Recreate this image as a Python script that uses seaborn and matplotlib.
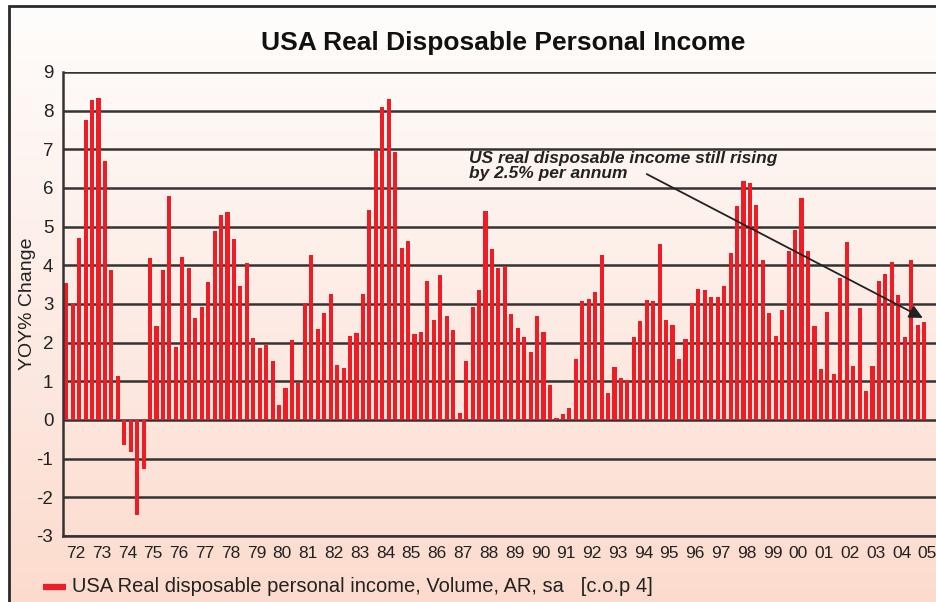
import numpy as np
import matplotlib
matplotlib.use("Agg")
import matplotlib.pyplot as plt
import seaborn as sns
from matplotlib.colors import LinearSegmentedColormap
from matplotlib.patches import Rectangle

# year labels on the x axis (one per 4 quarters)
years = ["72", "73", "74", "75", "76", "77", "78", "79", "80", "81", "82", "83",
         "84", "85", "86", "87", "88", "89", "90", "91", "92", "93", "94", "95",
         "96", "97", "98", "99", "00", "01", "02", "03", "04", "05"]

# quarterly YOY % change, 1972Q1 .. 2005Q2
yoy = [3.54, 3.01, 4.71, 7.76,   8.28, 8.33, 6.71, 3.88,
       1.14, -0.65, -0.84, -2.45, -1.26, 4.19, 2.43, 3.88,
       5.79, 1.90, 4.22, 3.93,   2.64, 2.92, 3.57, 4.89,
       5.30, 5.38, 4.68, 3.47,   4.07, 2.12, 1.86, 1.94,
       1.53, 0.39, 0.83, 2.07,   0.96, 3.03, 4.27, 2.35,
       2.77, 3.26, 1.42, 1.34,   2.17, 2.25, 3.26, 5.43,
       6.96, 8.09, 8.30, 6.93,   4.45, 4.63, 2.22, 2.28,
       3.59, 2.59, 3.75, 2.69,   2.33, 0.18, 1.53, 2.92,
       3.36, 5.41, 4.42, 3.93,   3.98, 2.74, 2.38, 2.15,
       1.76, 2.69, 2.28, 0.91,   0.05, 0.16, 0.31, 1.58,
       3.08, 3.13, 3.31, 4.27,   0.70, 1.37, 1.09, 1.03,
       2.15, 2.56, 3.10, 3.08,   4.55, 2.59, 2.46, 1.58,
       2.09, 3.03, 3.39, 3.36,   3.18, 3.18, 3.47, 4.32,
       5.53, 6.18, 6.13, 5.56,   4.14, 2.77, 2.17, 2.84,
       4.37, 4.91, 5.74, 4.37,   2.43, 1.32, 2.79, 1.19,
       3.67, 4.60, 1.40, 2.90,   0.75, 1.40, 3.59, 3.78,
       4.09, 3.23, 2.15, 4.14,   2.46, 2.53]

quarters = [f"{y}Q{q}" for y in years for q in range(1, 5)][:len(yoy)]

sns.set_style("white")
plt.rcParams['font.family'] = ['Liberation Sans', 'DejaVu Sans']

W, H = 937, 602
fig = plt.figure(figsize=(W / 100, H / 100), dpi=100)
fig.patch.set_facecolor("white")

# background: framed box with a soft peach gradient
bg = fig.add_axes([0, 0, 1, 1], zorder=0)
bg.set_xlim(0, 1)
bg.set_ylim(0, 1)
bg.axis("off")
cmap = LinearSegmentedColormap.from_list("peach", ["#fcdbcd", "#fdece5", "#fffdfc"])
grad = np.linspace(0, 1, 256).reshape(-1, 1)
x0, y1 = 9 / W, 1 - 6 / H
bg.imshow(grad, cmap=cmap, origin="lower", aspect="auto",
          extent=(x0, 1.01, -0.01, y1), zorder=0)
bg.add_patch(Rectangle((x0, -0.05), 1.2, y1 + 0.05, fill=False,
                       edgecolor="#2a2a2a", lw=2, zorder=1))

ax = fig.add_axes([63 / W, 66 / H, (W - 63) / W, 464 / H], zorder=2)
ax.set_facecolor("none")

sns.barplot(x=quarters, y=yoy, color="#ee1c24", saturation=1, width=0.64,
            edgecolor="none", linewidth=0, ax=ax)
for p in ax.patches:
    p.set_zorder(3)

ax.set_xlim(-0.5, 135.0)
ax.set_ylim(-3, 9)
ax.set_yticks(range(-3, 10))
ax.set_yticklabels([str(v) for v in range(-3, 10)], fontsize=13.5, color="#222")
ax.grid(axis="y", color="#333333", lw=1.8)
ax.set_axisbelow(True)

major = [-0.5 + 4 * k for k in range(len(years))]
minor = [1.5 + 4 * k for k in range(len(years))]
ax.set_xticks(major)
ax.set_xticklabels([])
ax.set_xticks(minor, minor=True)
ax.set_xticklabels(years, minor=True, fontsize=12.5, color="#222")
ax.tick_params(axis="x", which="major", direction="out", length=5, width=1.5, color="#333")
ax.tick_params(axis="x", which="minor", length=0, pad=7)
ax.tick_params(axis="y", direction="out", length=5, width=1.5, color="#333", pad=2)

for s in ["top", "right"]:
    ax.spines[s].set_visible(False)
for s in ["left", "bottom"]:
    ax.spines[s].set_color("#333333")
    ax.spines[s].set_linewidth(1.8)
    ax.spines[s].set_zorder(4)

ax.set_xlabel("")
ax.set_ylabel("YOY% Change", fontsize=14, color="#222", labelpad=0)
ax.yaxis.set_label_coords(-27 / (W - 63), 0.5)

ax.annotate("", xy=(132.8, 2.64), xytext=(90.0, 6.36),
            arrowprops=dict(arrowstyle="-|>", color="#222", lw=1.3,
                            mutation_scale=20, shrinkA=0, shrinkB=0), zorder=5)
ax.text(62.4, 6.95, "US real disposable income still rising\nby 2.5% per annum",
        fontsize=12.5, fontweight="bold", fontstyle="italic", color="#222",
        va="top", ha="left", linespacing=0.95, zorder=5)

fig.text(503 / W, 1 - 43 / H, "USA Real Disposable Personal Income",
         fontsize=19, fontweight="bold", color="#111", ha="center", va="center")

# legend
bg.plot([43 / W, 66 / W], [1 - 587 / H] * 2, color="#ee1c24", lw=4.5,
        solid_capstyle="butt", zorder=3)
bg.text(72 / W, 1 - 587 / H, "USA Real disposable personal income, Volume, AR, sa   [c.o.p 4]",
        fontsize=14.5, color="#222", va="center", ha="left", zorder=3)

fig.savefig("out.png", dpi=100)
